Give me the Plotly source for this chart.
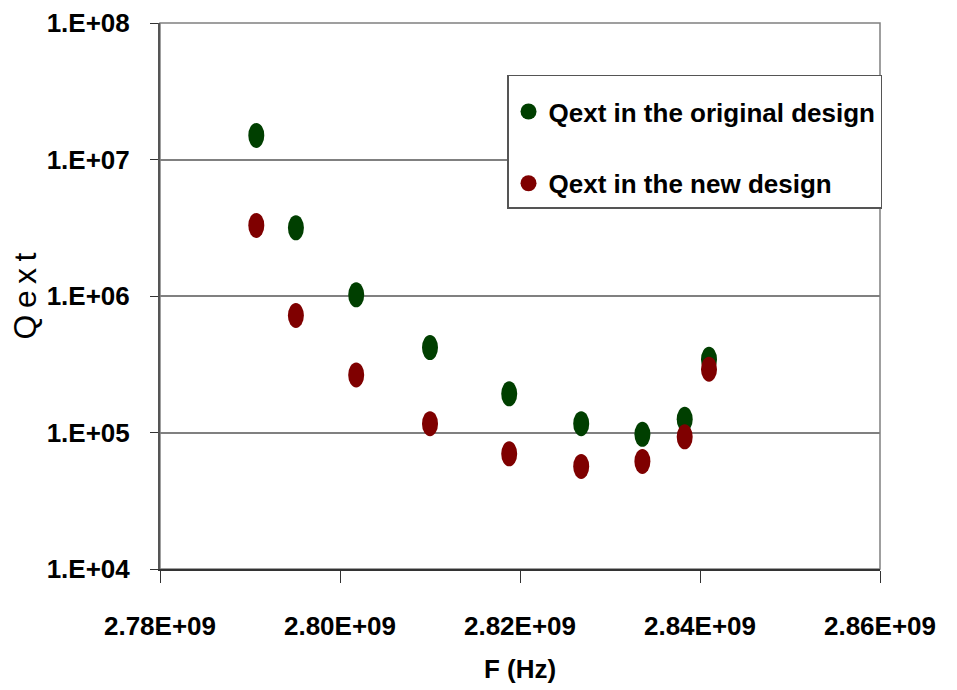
import plotly.graph_objects as go

# Frequency (Hz) and external Q for the two coupler designs
freq_original = [2.7907e9, 2.7951e9, 2.8018e9, 2.8100e9, 2.8188e9, 2.8268e9, 2.8336e9, 2.8383e9, 2.8410e9]
qext_original = [1.50e7, 3.16e6, 1.02e6, 4.19e5, 1.92e5, 1.16e5, 9.7e4, 1.25e5, 3.44e5]

freq_new = [2.7907e9, 2.7951e9, 2.8018e9, 2.8100e9, 2.8188e9, 2.8268e9, 2.8336e9, 2.8383e9, 2.8410e9]
qext_new = [3.29e6, 7.2e5, 2.64e5, 1.16e5, 6.98e4, 5.64e4, 6.14e4, 9.3e4, 2.91e5]

x_ticks = [2.78e9, 2.80e9, 2.82e9, 2.84e9, 2.86e9]
x_tick_text = ["2.78E+09", "2.80E+09", "2.82E+09", "2.84E+09", "2.86E+09"]
y_ticks = [1e4, 1e5, 1e6, 1e7, 1e8]
y_tick_text = ["1.E+04", "1.E+05", "1.E+06", "1.E+07", "1.E+08"]

series = [
    ("Qext in the original design", freq_original, qext_original, "#003F00"),
    ("Qext in the new design", freq_new, qext_new, "#7F0000"),
]

X_RANGE = [2.78e9, 2.86e9]
Y_RANGE = [4, 8]  # log10
MARGIN = dict(l=160, r=77, t=23, b=121)
W, H = 957, 690

# Marker ellipse half-sizes in pixels, converted to axis units
plot_w = W - MARGIN["l"] - MARGIN["r"]
plot_h = H - MARGIN["t"] - MARGIN["b"]
half_w_px, half_h_px = 8, 12.5
dx = half_w_px * (X_RANGE[1] - X_RANGE[0]) / plot_w
dlog = half_h_px * (Y_RANGE[1] - Y_RANGE[0]) / plot_h

BOLD = "Liberation Sans, Arial, sans-serif"
FS = 26

fig = go.Figure()
shapes = []
for i, (name, xs, ys, color) in enumerate(series):
    # data points (hover), covered by the ellipses drawn on top
    fig.add_trace(go.Scatter(
        x=xs, y=ys, mode="markers", name=name, showlegend=False,
        marker=dict(symbol="circle", size=8, color=color, line=dict(width=0)),
    ))
    # legend entry
    fig.add_trace(go.Scatter(
        x=[None], y=[None], mode="markers", name=name, legendgroup=f"g{i}",
        marker=dict(symbol="circle", size=16, color=color, line=dict(width=0)),
    ))
    for x, y in zip(xs, ys):
        shapes.append(dict(
            type="circle", xref="x", yref="y",
            x0=x - dx, x1=x + dx,
            y0=y * 10 ** (-dlog), y1=y * 10 ** dlog,
            fillcolor=color, line=dict(width=0), layer="above",
        ))

# Plot-area frame (top and right edges)
shapes.append(dict(type="rect", xref="paper", yref="paper", x0=0, x1=1, y0=0, y1=1,
                   line=dict(color="#808080", width=1.5), layer="below"))

fig.update_layout(
    width=W, height=H,
    margin=MARGIN,
    paper_bgcolor="white", plot_bgcolor="white",
    font=dict(family=BOLD, color="black", size=FS, weight="bold"),
    shapes=shapes,
    showlegend=True,
    legend=dict(
        x=1.0028, xanchor="right", y=0.905, yanchor="top",
        bgcolor="white", bordercolor="#555555", borderwidth=1.5,
        font=dict(family=BOLD, size=FS, color="black", weight="bold"),
        title=dict(text=" ", font=dict(size=9)),
        tracegroupgap=35, itemsizing="trace",
    ),
    xaxis=dict(
        range=X_RANGE, tickvals=x_ticks, ticktext=x_tick_text,
        showgrid=False, zeroline=False, automargin=False,
        showline=True, linecolor="#333333", linewidth=2,
        ticks="outside", ticklen=12, tickcolor="#333333", tickwidth=1,
        ticklabelstandoff=21,
        tickfont=dict(family=BOLD, size=FS, weight="bold"),
        title=dict(text="F (Hz)", standoff=20,
                   font=dict(family=BOLD, size=FS, weight="bold")),
    ),
    yaxis=dict(
        type="log", range=Y_RANGE, tickvals=y_ticks, ticktext=y_tick_text,
        showgrid=True, gridcolor="#808080", gridwidth=1.5, zeroline=False,
        automargin=False,
        showline=True, linecolor="#555555", linewidth=2,
        ticks="outside", ticklen=8, tickcolor="#333333", tickwidth=1,
        ticklabelstandoff=15,
        tickfont=dict(family=BOLD, size=FS, weight="bold"),
        title=dict(text="Q\u2009e\u2009x\u2009t", standoff=0,
                   font=dict(family="Liberation Sans, Arial, sans-serif", size=32, weight="normal")),
    ),
)

fig.write_html("out.html")
